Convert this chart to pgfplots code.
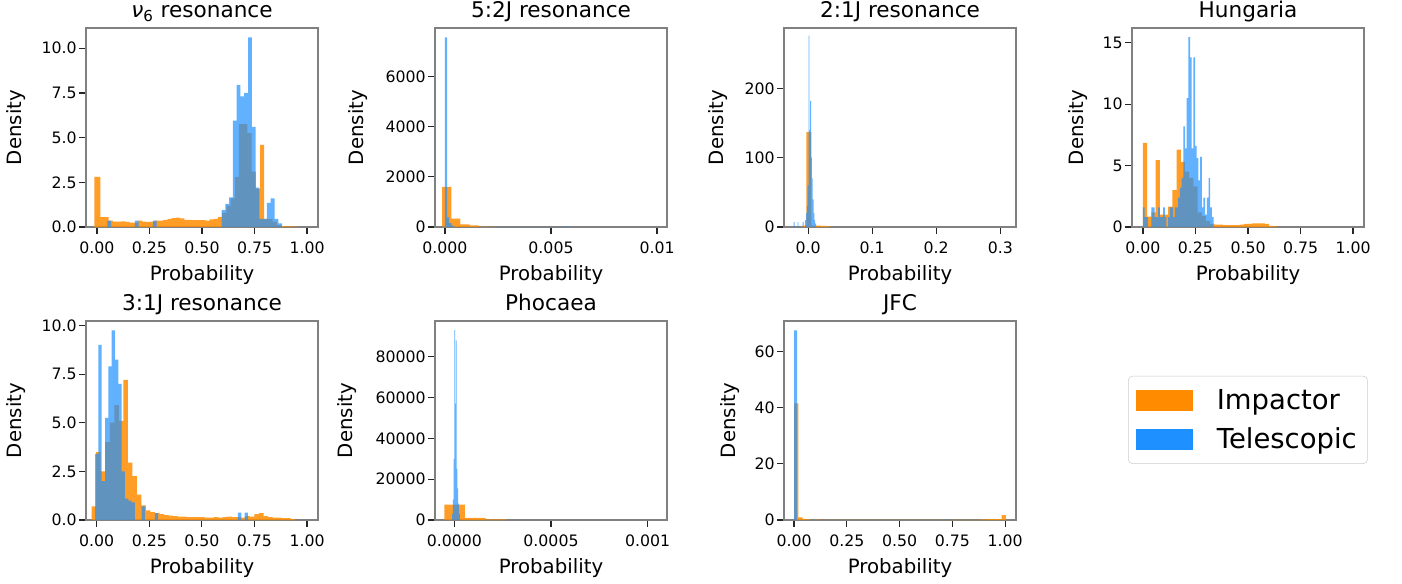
\documentclass[border=0pt]{standalone}
\usepackage{fontspec}
\setmainfont{DejaVu Sans}
\usepackage{pgfplots}
\pgfplotsset{compat=1.18}
\definecolor{impOrange}{RGB}{255,140,0}
\definecolor{telBlue}{RGB}{30,144,255}
\definecolor{spinegray}{RGB}{128,128,128}
\definecolor{tickc}{RGB}{38,38,38}
\definecolor{leggray}{RGB}{204,204,204}
\newcommand{\ticksize}{\fontsize{11.8}{14}\selectfont}
\newcommand{\labelsize}{\fontsize{14.8}{17}\selectfont}
\newcommand{\titlesize}{\fontsize{16.2}{19}\selectfont}
\newcommand{\legendsize}{\fontsize{20.6}{24}\selectfont}
\pgfplotsset{
  panel/.style={
    scale only axis, width=174pt, height=149.25pt,
    anchor=south west,
    axis line style={draw=spinegray, line width=0.8pt},
    tick align=outside, tick pos=left,
    major tick length=5.25pt,
    every tick/.style={tickc, line width=0.9pt},
    ymin=0, scaled ticks=false,
    /pgf/number format/assume math mode=true,
    xticklabel style={font=\ticksize, anchor=base, inner sep=0pt, yshift=-14.25pt},
    yticklabel style={font=\ticksize, anchor=east, inner sep=0pt, xshift=-1.5pt},
    xlabel=Probability, ylabel=Density,
    xlabel style={font=\labelsize, at={([yshift=-40.3pt]axis description cs:0.5,0)}, anchor=base},
    every axis title shift=0pt,
    title style={font=\titlesize, at={([yshift=7.8pt]axis description cs:0.5,1)}, anchor=base},
  },
  ylab/.style={ylabel style={font=\labelsize, at={([xshift=-#1]axis description cs:0,0.5)}, anchor=base}},
  imp/.style={const plot, fill=impOrange, fill opacity=0.85, draw=none, forget plot},
  tel/.style={const plot, fill=telBlue, fill opacity=0.7, draw=none, forget plot},
  implegend/.style={legend image code/.code={\fill[impOrange, sharp corners] (0pt,-7.5pt) rectangle (42pt,7.5pt);}},
  tellegend/.style={legend image code/.code={\fill[telBlue, sharp corners] (0pt,-7.5pt) rectangle (42pt,7.5pt);}},
}
\begin{document}
\begin{tikzpicture}
\useasboundingbox (0,0) rectangle (1051.5pt,437.25pt);

% ---------- nu6 resonance ----------
\begin{axis}[panel, ylab=48pt, at={(64.5pt,267pt)},
  title={\textit{ν}\textsubscript{6} resonance},
  xmin=-0.052, xmax=1.052, ymax=11.13,
  xtick={0,0.25,0.5,0.75,1}, xticklabels={0.00,0.25,0.50,0.75,1.00},
  ytick={0,2.5,5,7.5,10}, yticklabels={0.0,2.5,5.0,7.5,10.0}]
\addplot[imp] coordinates {(-0.012,2.8) (0.016,0.55) (0.036,0.55) (0.056,0.35) (0.076,0.3) (0.096,0.3) (0.116,0.32) (0.136,0.28) (0.156,0.25) (0.176,0.25) (0.196,0.35) (0.216,0.3) (0.236,0.28) (0.256,0.3) (0.276,0.35) (0.296,0.35) (0.316,0.4) (0.336,0.45) (0.356,0.5) (0.376,0.52) (0.396,0.48) (0.416,0.4) (0.436,0.4) (0.456,0.38) (0.476,0.38) (0.496,0.38) (0.516,0.35) (0.536,0.42) (0.556,0.45) (0.576,0.55) (0.596,0.8) (0.616,1.2) (0.636,1.6) (0.656,2.8) (0.676,5.75) (0.696,5.75) (0.716,5.25) (0.736,3.1) (0.756,2.15) (0.776,4.6) (0.796,0.45) (0.816,0.45) (0.836,0.3) (0.856,0.1) (0.876,0.05) (0.896,0.03) (0.916,0.03) (0.936,0.02) (0.956,0.02)} \closedcycle;
\addplot[tel] coordinates {(0.05,0.35) (0.068,0) (0.18,0.35) (0.198,0) (0.266,0.35) (0.284,0) (0.593,0.95) (0.611,1.3) (0.629,1.65) (0.647,5.95) (0.665,7.95) (0.683,7.3) (0.701,7.5) (0.719,10.6) (0.737,5.6) (0.755,2.2) (0.773,0.45) (0.791,0.45) (0.809,1.35) (0.827,1.6) (0.845,0.45) (0.863,0.2) (0.881,0.2)} \closedcycle;
\end{axis}

% ---------- 5:2J resonance ----------
\begin{axis}[panel, ylab=54pt, at={(326.25pt,267pt)},
  title={5:2J resonance},
  xmin=-0.00047, xmax=0.01047, ymax=7938,
  xtick={0,0.005,0.01}, xticklabels={0.000,0.005,0.01},
  ytick={0,2000,4000,6000}, yticklabels={0,2000,4000,6000}]
\addplot[imp] coordinates {(-0.00013,1600) (0.0003,330) (0.00073,100) (0.00116,60) (0.00159,20) (0.00202,5) (0.00245,5)} \closedcycle;
\addplot[tel] coordinates {(-0.00018,25) (-0.00008,0) (0.0,7560) (0.0001,380) (0.0002,150) (0.0003,60) (0.0004,20) (0.0005,0) (0.0057,30) (0.0058,30)} \closedcycle;
\end{axis}

% ---------- 2:1J resonance ----------
\begin{axis}[panel, ylab=45.75pt, at={(588pt,267pt)},
  title={2:1J resonance},
  xmin=-0.0377, xmax=0.3246, ymax=287,
  xtick={0,0.1,0.2,0.3}, xticklabels={0.0,0.1,0.2,0.3},
  ytick={0,100,200}, yticklabels={0,100,200}]
\addplot[imp] coordinates {(-0.009,2) (-0.0026,137) (0.0052,2) (0.012,2) (0.02,1.5) (0.028,1) (0.035,1)} \closedcycle;
\addplot[tel] coordinates {(-0.0225,7) (-0.0212,0) (-0.0165,7) (-0.0152,0) (-0.0085,7) (-0.0072,0) (-0.0046,10) (-0.0033,20) (-0.002,30) (-0.0007,60) (0.0006,276) (0.0019,140) (0.0032,182) (0.0045,100) (0.0058,70) (0.0071,40) (0.0084,20) (0.0097,10) (0.011,5) (0.0123,5)} \closedcycle;
\end{axis}

% ---------- Hungaria ----------
\begin{axis}[panel, ylab=36.75pt, at={(849pt,267pt)},
  title={Hungaria},
  xmin=-0.052, xmax=1.052, ymax=16.2,
  xtick={0,0.25,0.5,0.75,1}, xticklabels={0.00,0.25,0.50,0.75,1.00},
  ytick={0,5,10,15}, yticklabels={0,5,10,15}]
\addplot[imp] coordinates {(0,6.85) (0.02,0.85) (0.04,1.2) (0.06,5.45) (0.08,1.0) (0.1,1.0) (0.12,1.65) (0.14,3.0) (0.16,6.3) (0.18,5.3) (0.2,4.5) (0.22,4.0) (0.24,3.3) (0.26,1.2) (0.28,0.9) (0.3,0.5) (0.32,0.25) (0.34,0.2) (0.36,0.2) (0.38,0.15) (0.4,0.15) (0.42,0.15) (0.44,0.15) (0.46,0.2) (0.48,0.25) (0.5,0.25) (0.52,0.3) (0.54,0.3) (0.56,0.3) (0.58,0.25) (0.6,0.1) (0.62,0.05) (0.64,0.05)} \closedcycle;
\addplot[tel] coordinates {(0,1.6) (0.008,0.8) (0.016,0.8) (0.024,0) (0.04,1.6) (0.048,1.6) (0.056,0.8) (0.064,0.8) (0.072,1.6) (0.08,0.8) (0.088,0.8) (0.096,1.6) (0.104,0.8) (0.112,0) (0.12,0.8) (0.128,1.6) (0.136,1.6) (0.144,0.8) (0.152,1.6) (0.16,1.6) (0.168,2.4) (0.176,3.2) (0.184,4.0) (0.192,8.2) (0.2,6.4) (0.208,10.5) (0.216,15.45) (0.224,13.8) (0.232,6.4) (0.24,13.8) (0.248,6.6) (0.256,5.6) (0.264,3.8) (0.272,5.7) (0.28,1.6) (0.288,2.4) (0.296,1.0) (0.304,2.4) (0.312,4.0) (0.32,1.6) (0.328,0.8) (0.336,0.8)} \closedcycle;
\end{axis}

% ---------- 3:1J resonance ----------
\begin{axis}[panel, ylab=48pt, at={(64.5pt,47.25pt)},
  title={3:1J resonance},
  xmin=-0.051, xmax=1.052, ymax=10.23,
  xtick={0,0.25,0.5,0.75,1}, xticklabels={0.00,0.25,0.50,0.75,1.00},
  ytick={0,2.5,5,7.5,10}, yticklabels={0.0,2.5,5.0,7.5,10.0}]
\addplot[imp] coordinates {(-0.024,0.7) (-0.0025,3.5) (0.019,2.5) (0.0405,4.0) (0.062,5.0) (0.0835,5.9) (0.105,5.1) (0.1265,7.2) (0.148,2.95) (0.1695,2.25) (0.191,1.3) (0.2125,0.75) (0.234,0.5) (0.2555,0.4) (0.277,0.35) (0.2985,0.3) (0.32,0.25) (0.3415,0.22) (0.363,0.2) (0.3845,0.18) (0.406,0.18) (0.4275,0.15) (0.449,0.15) (0.4705,0.15) (0.492,0.15) (0.5135,0.12) (0.535,0.12) (0.5565,0.15) (0.578,0.12) (0.5995,0.15) (0.621,0.18) (0.6425,0.15) (0.664,0.15) (0.6855,0.12) (0.707,0.2) (0.7285,0.18) (0.75,0.3) (0.7715,0.35) (0.793,0.2) (0.8145,0.15) (0.836,0.12) (0.8575,0.12) (0.879,0.1) (0.9005,0.1) (0.922,0.05) (0.9435,0.05)} \closedcycle;
\addplot[tel] coordinates {(-0.008,3.4) (0.0078,9.0) (0.0236,2.0) (0.0394,5.25) (0.0552,7.9) (0.071,9.75) (0.0868,8.25) (0.1026,7.0) (0.1184,2.5) (0.1342,1.1) (0.15,1.0) (0.1658,0.9) (0.1816,0) (0.2132,0.7) (0.229,0) (0.2764,0.35) (0.2922,0) (0.6714,0.38) (0.6872,0) (0.703,0.38) (0.7188,0)} \closedcycle;
\end{axis}

% ---------- Phocaea ----------
\begin{axis}[panel, ylab=62.25pt, at={(326.25pt,47.25pt)},
  title={Phocaea},
  xmin=-0.0001, xmax=0.0011, ymax=97500,
  xtick={0,0.0005,0.001}, xticklabels={0.0000,0.0005,0.001},
  ytick={0,20000,40000,60000,80000}, yticklabels={0,20000,40000,60000,80000}]
\addplot[imp] coordinates {(-0.000052,7500) (0.000055,1000) (0.000162,300) (0.000269,300)} \closedcycle;
\addplot[tel] coordinates {(-0.000012,3000) (-0.000008,10000) (-0.000004,30000) (0.0,93000) (0.000004,57000) (0.000008,88000) (0.000012,25000) (0.000016,15500) (0.00002,8000) (0.000024,3000) (0.000028,3000)} \closedcycle;
\end{axis}

% ---------- JFC ----------
\begin{axis}[panel, ylab=36.75pt, at={(588pt,47.25pt)},
  title={JFC},
  xmin=-0.0476, xmax=1.051, ymax=70.8,
  xtick={0,0.25,0.5,0.75,1}, xticklabels={0.00,0.25,0.50,0.75,1.00},
  ytick={0,20,40,60}, yticklabels={0,20,40,60},
  legend style={at={(axis description cs:1.483,0.724)}, anchor=north west,
    draw=leggray, rounded corners=3pt, fill=white, font=\legendsize,
    inner xsep=6pt, inner ysep=8pt, row sep=7.9pt,
    /tikz/every odd column/.append style={column sep=16pt}},
  legend cell align=left]
\addplot[imp] coordinates {(0,41.5) (0.02,0.9) (0.04,0.3) (0.06,0.2) (0.08,0.15) (0.1,0.1) (0.12,0.05) (0.883,0.2) (0.903,0.25) (0.923,0.3) (0.943,0.3) (0.963,0.3) (0.983,1.7) (1.003,1.7)} \closedcycle;
\addplot[tel] coordinates {(0,67.5) (0.0143,0) (0.08,0.3) (0.0943,0) (0.715,0.25) (0.729,0.25)} \closedcycle;
\addlegendimage{implegend}
\addlegendentry{Impactor}
\addlegendimage{tellegend}
\addlegendentry{Telescopic}
\end{axis}
\end{tikzpicture}
\end{document}
